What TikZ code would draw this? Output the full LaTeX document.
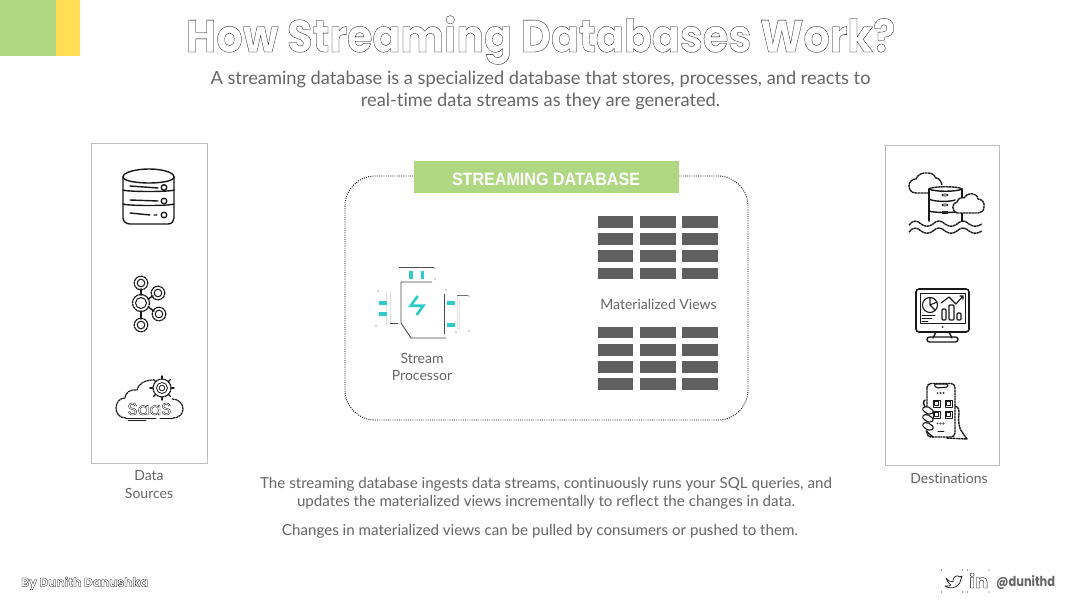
\documentclass[tikz,border=0pt]{standalone}
\usepackage{fontspec}
\setmainfont[Ligatures=NoCommon]{Lato}
\newfontfamily\titlefont{Poppins}
\newfontfamily\headfont{Liberation Sans}
\newcommand{\outlinetext}[1]{\special{pdf:code q 1 Tr 0.3 w}#1\special{pdf:code Q}}
\definecolor{leaf}{HTML}{B0D882}
\definecolor{sun}{HTML}{FFDD55}
\definecolor{ink}{HTML}{666666}
\definecolor{slab}{HTML}{5F5F5F}
\definecolor{frame}{HTML}{BDBDBD}
\definecolor{teal}{HTML}{2ECBCB}
\tikzset{
  txt/.style={inner sep=0pt,text=ink,font=\fontsize{15.15}{18}\selectfont,align=center},
  sub/.style={txt,font=\fontsize{18.25}{22}\selectfont},
  lbl/.style={txt,font=\fontsize{14}{17.5}\selectfont},
  panel/.style={draw=frame,line width=0.8pt,fill=white},
  cell/.style={fill=slab,draw=none},
  icon/.style={draw=black!90,line width=1.4pt,line cap=round,line join=round},
  thin icon/.style={draw=black!90,line width=0.8pt,line cap=round,line join=round},
  broken/.style={dash pattern=on 2.4pt off 0.5pt,line cap=butt},
  tealbar/.style={fill=teal,draw=none},
  sp/.style={draw=black!70,line width=0.9pt},
  sp light/.style={draw=black!12,line width=0.8pt},
}
\begin{document}
\begin{tikzpicture}[x=1pt,y=-1pt]
\useasboundingbox (0,0) rectangle (1080,608);
\fill[white] (0,0) rectangle (1080,608);
% corner
\fill[leaf] (0,0) rectangle (56,56);
\fill[sun] (56,0) rectangle (80,56);
% title
\node[inner sep=0pt,anchor=base west] (title) at (186,52) {\scalebox{1}[1.1]{\resizebox{709pt}{!}{\titlefont\bfseries\fontsize{48}{50}\selectfont\outlinetext{How Streaming Databases Work?}}}};
\node[sub] (sub1) at (540.5,79) {A streaming database is a specialized database that stores, processes, and reacts to};
\node[sub] (sub2) at (540.5,101) {real-time data streams as they are generated.};
% panels
\draw[panel] (91.5,143) rectangle (207,463);
\draw[panel] (885,145) rectangle (999,465);
\node[lbl] (ds1) at (149,476) {Data};
\node[lbl] (ds2) at (149,493) {Sources};
\node[lbl] (dest) at (949,478) {Destinations};
% main
\draw[black,line width=0.9pt,dash pattern=on 0.9pt off 1.3pt,rounded corners=30pt] (345,176) rectangle (748,420);
\fill[leaf] (414,161) rectangle (679,193);
\node[inner sep=0pt,text=white] (head) at (546,179) {\resizebox{188pt}{12.5pt}{\headfont\bfseries\fontsize{17}{20}\selectfont STREAMING DATABASE}};
% grids
\foreach \xa/\xb in {598/633,640/676,682/718}{
  \foreach \ya/\yb in {216/228,233/245,250/262,268/279,327/338,344/356,361/373,378/390}{
    \fill[cell] (\xa,\ya) rectangle (\xb,\yb);
  }
}
\node[lbl] (mv) at (658.5,304) {Materialized Views};
% stream processor
\draw[sp] (432,282) -- (401,282) -- (401,323) -- (411,338) -- (446,338);
\draw[sp] (444,294) -- (444,334);
\draw[sp] (399,267) -- (434,267);
\draw[sp] (390,323) -- (398,323);
\draw[sp light] (386,291) -- (386,326);
\draw[sp light] (390,291) -- (390,323);
\draw[sp light] (457,295) -- (457,330);
\draw[sp light] (459,299) -- (459,330);
\draw[black!55,line width=0.8pt] (457,295) -- (468,295);
\foreach \p in {(435,268),(435,279),(378,291),(376,326),(446,290),(469,296),(469,331),(456,332)}{\fill[black!70] \p circle[radius=0.6];}
\fill[tealbar] (409,271) rectangle (413,279);
\fill[tealbar] (421,271) rectangle (424,279);
\fill[tealbar] (379,301) rectangle (387,305);
\fill[tealbar] (379,312) rectangle (387,316);
\fill[tealbar] (447,301) rectangle (455,305);
\fill[tealbar] (447,323) rectangle (455,327);
\draw[teal,line width=2.6pt,line join=miter] (417.7,296) -- (410.7,305.7) -- (423.3,305.7) -- (416.7,315);
\node[lbl] (sp1) at (422,358) {Stream};
\node[lbl] (sp2) at (422,375.5) {Processor};
% database icon
\draw[icon] (123,177) .. controls (123,172) and (137,169) .. (149,169) .. controls (161,169) and (174,172) .. (174,177);
\draw[icon] (123,177) .. controls (123,181) and (137,183) .. (149,183) .. controls (161,183) and (174,181) .. (174,177);
\draw[icon] (123,177) -- (123,218) .. controls (123,221) and (126,224) .. (130,224) -- (168,224) .. controls (172,224) and (174,221) .. (174,218) -- (174,177);
\draw[icon] (123,190) .. controls (128,192) and (170,192) .. (174,190);
\draw[icon] (123,204) .. controls (128,206) and (170,206) .. (174,204);
\draw[icon] (130,186) -- (158,188);
\draw[icon] (130,200) -- (158,201);
\draw[icon] (130,213) -- (150,215) (154,215) -- (157,215);
\foreach \cy in {187.5,201,215}{\draw[icon] (164,\cy) circle[radius=2.8];}
% kafka icon
\draw[icon] (141,289) -- (141,295) (141,311) -- (141,319);
\draw[icon] (148,299) -- (153,296) (148,307) -- (154,311);
\foreach \cx/\cy/\r in {141/283/6.8,141/303/8.5,158/293/6.8,159/314/6.8,141/325/6.8}{
  \draw[icon,broken,line width=1.2pt] (\cx,\cy) circle[radius=\r];
  \draw[thin icon,line width=1pt] (\cx,\cy) circle[radius=\r-3];
}
% saas icon
\draw[icon,broken,line width=1.2pt] (126,418) .. controls (119,418) and (116,413) .. (116,408) .. controls (116,402) and (120,398) .. (125,398) .. controls (125,393) and (130,389) .. (137,390) .. controls (138,384) and (145,380) .. (153,380);
\draw[icon,broken,line width=1.2pt] (172,399) .. controls (178,399) and (183,403) .. (183,409) .. controls (183,414) and (179,418) .. (173,418);
\draw[thin icon] (126,418) -- (156,418) (160,418) -- (173,418);
\draw[thin icon] (128,420) -- (146,420);
\draw[thin icon] (162,388) circle[radius=5.5] (162,388) circle[radius=2.8];
\draw[thin icon,broken,line width=1.2pt] (162,388) circle[radius=9];
\foreach \a in {0,45,...,315}{\draw[thin icon,line width=1.4pt] ({162+9.5*cos(\a)},{388+9.5*sin(\a)}) -- ({162+12*cos(\a)},{388+12*sin(\a)});}
\node[inner sep=0pt] (saas) at (149.5,409) {\resizebox{44pt}{12pt}{\titlefont\fontsize{16}{18}\selectfont\outlinetext{SaaS}}};
% data lake icon
\draw[icon,broken] (929,193) -- (916,193) .. controls (911,193) and (909,189) .. (909,186) .. controls (909,182) and (912,179) .. (916,179) .. controls (917,175) and (923,172) .. (928,173) .. controls (932,173) and (935,175) .. (936,178) .. controls (939,178) and (941,181) .. (942,185);
\draw[icon] (929,189) -- (929,221) (962,189) -- (962,221);
\draw[icon,broken] (929,189) .. controls (932,186) and (959,186) .. (962,189);
\draw[icon] (929,189) .. controls (934,192) and (957,192) .. (962,189);
\draw[icon] (929,199) .. controls (934,202) and (950,202) .. (955,200);
\draw[icon] (929,211) .. controls (934,213) and (957,213) .. (962,211);
\draw[thin icon] (945,195) ellipse[x radius=3,y radius=1];
\draw[thin icon] (945,205) ellipse[x radius=3,y radius=1];
\fill[black!85] (942,211) rectangle (948,214);
\draw[icon,fill=white,broken] (957,213) .. controls (952,212) and (951,203) .. (957,202) .. controls (958,198) and (962,197) .. (964,198) .. controls (967,192) and (977,192) .. (978,199) .. controls (982,199) and (985,203) .. (984,207) .. controls (984,211) and (981,213) .. (978,213) -- cycle;
\draw[icon,broken] (909,225) .. controls (913,220) and (917,220) .. (921,224) .. controls (925,227) and (929,227) .. (933,224) .. controls (937,220) and (941,220) .. (945,224) .. controls (949,227) and (953,227) .. (957,224) .. controls (961,220) and (965,220) .. (969,224) .. controls (973,227) and (977,227) .. (982,224);
\draw[icon,broken] (909,232) .. controls (913,227) and (917,227) .. (921,231) .. controls (925,234) and (929,234) .. (933,231) .. controls (937,227) and (941,227) .. (945,231) .. controls (949,234) and (953,234) .. (957,231) .. controls (961,227) and (965,227) .. (969,231) .. controls (973,234) and (977,234) .. (982,231);
% monitor icon
\draw[icon,rounded corners=3pt,line width=1.6pt] (916,289) rectangle (969,332);
\draw[thin icon,line width=1pt] (920,293) rectangle (965,323);
\fill[black!85] (942.5,327) circle[radius=1];
\draw[icon] (936,332) -- (933,338) (949,332) -- (952,338);
\draw[icon,rounded corners=2.5pt] (927,337) rectangle (958,342);
\draw[thin icon,line width=1.1pt] (930,305) circle[radius=7.5] (930,305) -- (930,297.5) (930,305) -- (937,302) (930,305) -- (935,310);
\draw[thin icon] (922,315) -- (935,315) (922,318) -- (932,318) (922,321) -- (928,321);
\draw[thin icon,line width=1.1pt,rounded corners=1pt] (942,320) rectangle (946,309);
\draw[thin icon,line width=1.1pt,rounded corners=1pt] (949,320) rectangle (954,305);
\draw[thin icon,line width=1.1pt,rounded corners=1pt] (957,320) rectangle (961,313);
\draw[thin icon,line width=1.1pt] (941,303) -- (949,297) -- (956,304) -- (963,296) (960,296) -- (963,296) -- (963,299);
% phone icon
\draw[icon,rounded corners=4pt,broken,fill=white] (927,383.5) rectangle (955,437);
\draw[thin icon,line width=1.1pt,rounded corners=1.5pt] (934,384) -- (948,384) -- (948,387) -- (936,388) -- cycle;
\foreach \yy in {393,423.5}{\fill[black!85] (937.5,\yy) circle[radius=0.9];\draw[thin icon,line width=0.4pt] (940.5,\yy) circle[radius=0.9] (943.5,\yy) circle[radius=0.9];}
\foreach \ax/\ay in {933/400,945/400,933/411,945/411}{\draw[thin icon] (\ax,\ay) rectangle ++(7,7); \draw[thin icon,line width=0.4pt] (\ax+1.5,\ay+1.5) rectangle ++(4,4);}
\draw[thin icon] (938,431) -- (944,431);
\draw[icon,broken] (955,406) .. controls (959,407) and (959,410) .. (959,414) .. controls (958,422) and (959,428) .. (962,432) -- (967,439) -- (946,438);
\foreach \fy in {408,416,424}{\draw[icon,line width=1.1pt,fill=white,rounded corners=2pt] (922,\fy) -- (927,\fy-2) -- (934,\fy+3) -- (931,\fy+7) -- (924,\fy+4) -- cycle;}
\draw[icon] (925,400) .. controls (923,401) and (923,405) .. (925,407) (926,431) -- (933,437);
% footer
\node[inner sep=0pt,anchor=base west] (by) at (21,586.5) {\resizebox{127pt}{!}{\titlefont\bfseries\fontsize{14}{16}\selectfont\outlinetext{By Dunith Danushka}}};
\draw[icon,line width=0.7pt] (946,578) .. controls (948,581) and (951,582) .. (953,582) .. controls (952,577) and (957,574) .. (960,577) -- (962,576) -- (961,579) .. controls (961,585) and (953,591) .. (945,586) .. controls (948,586) and (950,586) .. (951,585) .. controls (949,584) and (947,581) .. (946,578) -- cycle;
\node[inner sep=0pt,anchor=base west] (li) at (969,588) {\resizebox{19pt}{15pt}{\titlefont\bfseries\fontsize{16}{18}\selectfont\outlinetext{in}}};
\foreach \p in {(941.5,570),(962.5,570),(941.5,592),(962.5,592),(967.5,570),(989,570),(967.5,592),(989,592)}{\fill[black!70] \p circle[radius=0.6];}
\node[inner sep=0pt,anchor=base west,text=ink] (handle) at (996,586.5) {\scalebox{1}[1.2]{\resizebox{59pt}{!}{\titlefont\fontsize{13.5}{15}\selectfont\bfseries @dunithd}}};
% notes
\node[txt] (n1) at (546,484) {The streaming database ingests data streams, continuously runs your SQL queries, and};
\node[txt] (n2) at (546,502.5) {updates the materialized views incrementally to reflect the changes in data.};
\node[txt] (n3) at (540,531) {Changes in materialized views can be pulled by consumers or pushed to them.};
\end{tikzpicture}
\end{document}
